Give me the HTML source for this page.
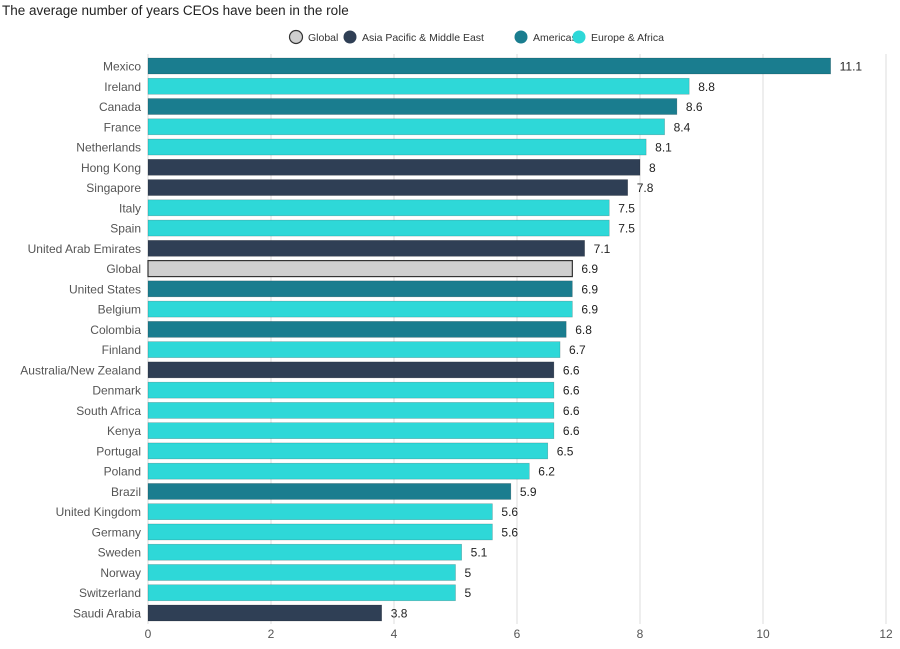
<!DOCTYPE html>
<html><head><meta charset="utf-8"><style>
body{margin:0;background:#fff;font-family:"Liberation Sans",sans-serif;}
svg text{font-family:"Liberation Sans",sans-serif;}
</style></head><body>
<svg id="c" width="900" height="644" xmlns="http://www.w3.org/2000/svg">
<text x="2" y="15" font-size="13.5" fill="#222">The average number of years CEOs have been in the role</text>
<g id="legend"></g>
<g id="grid"></g>
<g id="bars"></g>
<g id="xaxis"></g>
</svg>
<script>
const categories=["Mexico","Ireland","Canada","France","Netherlands","Hong Kong","Singapore","Italy","Spain","United Arab Emirates","Global","United States","Belgium","Colombia","Finland","Australia/New Zealand","Denmark","South Africa","Kenya","Portugal","Poland","Brazil","United Kingdom","Germany","Sweden","Norway","Switzerland","Saudi Arabia"];
const values=[11.1,8.8,8.6,8.4,8.1,8,7.8,7.5,7.5,7.1,6.9,6.9,6.9,6.8,6.7,6.6,6.6,6.6,6.6,6.5,6.2,5.9,5.6,5.6,5.1,5,5,3.8];
const regions=["am","eu","am","eu","eu","ap","ap","eu","eu","ap","gl","am","eu","am","eu","ap","eu","eu","eu","eu","eu","am","eu","eu","eu","eu","eu","ap"];
const ticks=[0,2,4,6,8,10,12];
const legendLabels=["Global","Asia Pacific & Middle East","Americas","Europe & Africa"];
const legendKeys=["gl","ap","am","eu"];
const colors={gl:"#cfcfcf",ap:"#2f3f55",am:"#1a7d8f",eu:"#2ed8d8"};
const NS="http://www.w3.org/2000/svg";
const x0=148,x1=886,xmax=12;
const xs=v=>x0+(v/xmax)*(x1-x0);
const yTop=66,step=(613-66)/27;
const ys=i=>yTop+i*step;
function mk(t,a,p){const e=document.createElementNS(NS,t);for(const k in a)e.setAttribute(k,a[k]);p.appendChild(e);return e;}
const grid=document.getElementById('grid'),bars=document.getElementById('bars'),xa=document.getElementById('xaxis'),lg=document.getElementById('legend');
ticks.forEach(t=>{
 const l=mk('line',{x1:xs(t),x2:xs(t),y1:54,y2:624,stroke:'#dddddd','stroke-width':1},grid);
 
 
 const tx=mk('text',{x:xs(t),y:638,'font-size':12,fill:'#555','text-anchor':'middle'},xa);
 tx.textContent=t;
 
 
});
categories.forEach((c,i)=>{
 const y=ys(i);
 const r=mk('rect',{x:x0,y:y-8,width:xs(values[i])-x0,height:16,fill:colors[regions[i]],stroke:regions[i]=='gl'?'#333':'rgba(0,0,0,0.25)','stroke-width':regions[i]=='gl'?1.2:0.6},bars);
 
 
 const lab=mk('text',{x:141,y:y+4.5,'font-size':12,fill:'#555','text-anchor':'end'},bars);
 lab.textContent=c;
 
 
 const v=mk('text',{x:xs(values[i])+9,y:y+4.5,'font-size':12,fill:'#222'},bars);
 v.textContent=values[i];
 
 
});
const lx=[296,350,521,579];
legendLabels.forEach((t,i)=>{
 const g=mk('g',{},lg);
 
 
 mk('circle',{cx:lx[i],cy:37,r:6.5,fill:colors[legendKeys[i]],stroke:legendKeys[i]=='gl'?'#333':'none','stroke-width':1.2},g);
 const tx=mk('text',{x:lx[i]+12,y:41,'font-size':10.5,fill:'#333'},g);
 tx.textContent=t;
});
</script>
</body></html>
